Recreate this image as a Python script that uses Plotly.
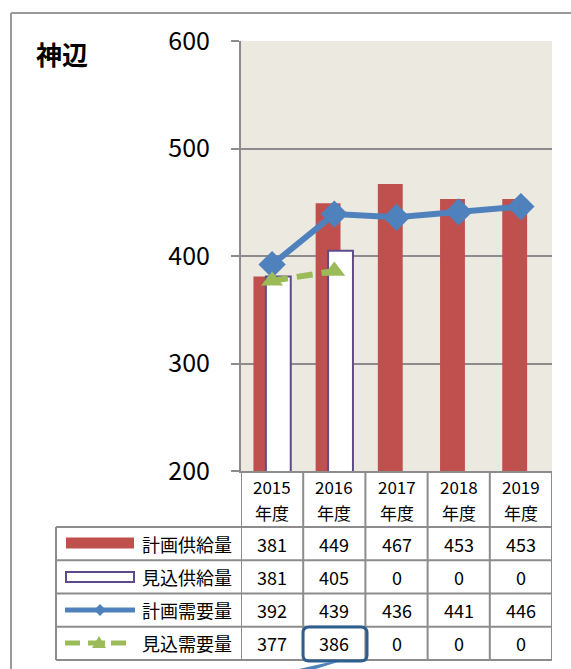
import plotly.graph_objects as go

# データ
years = ["2015", "2016", "2017", "2018", "2019"]
year_unit = "年度"
series_names = ["計画供給量", "見込供給量", "計画需要量", "見込需要量"]
plan_supply = [381, 449, 467, 453, 453]
est_supply = [381, 405, 0, 0, 0]
plan_demand = [392, 439, 436, 441, 446]
est_demand = [377, 386, 0, 0, 0]

RED = "#C0504D"
PURPLE = "#5F4B8B"
BLUE = "#4F81BD"
GREEN = "#9BBB59"
GRID = "#8C8C8C"
FONT = "Noto Sans CJK JP"

W, H = 571, 669
L, R, T, B = 241, 19, 41, 198
PW, PH = W - L - R, H - T - B


# ピクセル -> paper 座標
def px(X):
    return (X - L) / PW


def py(Y):
    return (H - B - Y) / PH


fig = go.Figure()

fig.add_trace(go.Bar(
    x=years, y=plan_supply, name=series_names[0],
    marker=dict(color=RED, line=dict(width=0)),
    width=0.4, offset=-0.3
))
fig.add_trace(go.Bar(
    x=years, y=est_supply, name=series_names[1],
    marker=dict(color="white", line=dict(color=PURPLE, width=2)),
    width=0.4, offset=-0.1
))
fig.add_trace(go.Scatter(
    x=years, y=plan_demand, name=series_names[2], mode="lines+markers",
    line=dict(color=BLUE, width=6),
    marker=dict(symbol="diamond", size=21, color=BLUE)
))
fig.add_trace(go.Scatter(
    x=years, y=[v if v else None for v in est_demand], name=series_names[3],
    mode="lines+markers",
    line=dict(color=GREEN, width=6, dash="16px,9px"),
    marker=dict(symbol="triangle-up", size=19, color=GREEN)
))

shapes = []
annotations = []


def label(x, y, text, xref="paper", xanchor="center", size=18):
    annotations.append(dict(x=x, xref=xref, y=y, yref="paper", text=text,
                            showarrow=False, xanchor=xanchor, yanchor="middle",
                            font=dict(size=size, color="black")))


# 外枠
shapes.append(dict(type="line", xref="paper", yref="paper",
                   x0=px(11), x1=px(575), y0=py(13), y1=py(13),
                   line=dict(color="#9A9A9A", width=2)))
shapes.append(dict(type="line", xref="paper", yref="paper",
                   x0=px(11), x1=px(11), y0=py(13), y1=py(675),
                   line=dict(color="#9A9A9A", width=2)))

# データテーブル
row_lines = [527, 560.25, 593.5, 626.75, 660]
for i in range(len(years) + 1):
    shapes.append(dict(type="line", xref="x", yref="paper",
                       x0=i - 0.5, x1=i - 0.5, y0=py(471), y1=py(660),
                       line=dict(color=GRID, width=2)))
shapes.append(dict(type="line", xref="paper", yref="paper",
                   x0=px(56), x1=px(56), y0=py(527), y1=py(660),
                   line=dict(color=GRID, width=2)))
for Y in row_lines:
    shapes.append(dict(type="line", xref="paper", yref="paper",
                       x0=px(56), x1=1, y0=py(Y), y1=py(Y),
                       line=dict(color=GRID, width=2)))

for i, yr in enumerate(years):
    label(i, py(486), yr, xref="x", size=17)
    label(i, py(512), year_unit, xref="x", size=17)

rows = [plan_supply, est_supply, plan_demand, est_demand]
for r, vals in enumerate(rows):
    yc = (row_lines[r] + row_lines[r + 1]) / 2
    label(px(234), py(yc), series_names[r], xanchor="right")
    for i, v in enumerate(vals):
        label(i, py(yc), str(v), xref="x")

# 凡例記号
shapes.append(dict(type="rect", xref="paper", yref="paper",
                   x0=px(66), x1=px(134), y0=py(537.5), y1=py(548.5),
                   fillcolor=RED, line=dict(width=0)))
shapes.append(dict(type="rect", xref="paper", yref="paper",
                   x0=px(66), x1=px(134), y0=py(572), y1=py(582),
                   fillcolor="white", line=dict(color=PURPLE, width=2)))
shapes.append(dict(type="line", xref="paper", yref="paper",
                   x0=px(65), x1=px(135), y0=py(610), y1=py(610),
                   line=dict(color=BLUE, width=5)))
shapes.append(dict(type="path", xref="paper", yref="paper",
                   path=f"M {px(100)},{py(604)} L {px(106)},{py(610)} L {px(100)},{py(616)} L {px(94)},{py(610)} Z",
                   fillcolor=BLUE, line=dict(width=0)))
for x0, x1 in [(65, 80), (88, 105), (111, 126)]:
    shapes.append(dict(type="line", xref="paper", yref="paper",
                       x0=px(x0), x1=px(x1), y0=py(643), y1=py(643),
                       line=dict(color=GREEN, width=5)))
shapes.append(dict(type="path", xref="paper", yref="paper",
                   path=f"M {px(99)},{py(636)} L {px(106)},{py(648)} L {px(92)},{py(648)} Z",
                   fillcolor=GREEN, line=dict(width=0)))

# 吹き出し
shapes.append(dict(type="path", xref="paper", yref="paper",
                   path=(f"M {px(309)},{py(627)} L {px(361)},{py(627)} "
                         f"Q {px(367)},{py(627)} {px(367)},{py(633)} "
                         f"L {px(367)},{py(655)} Q {px(367)},{py(661)} {px(361)},{py(661)} "
                         f"L {px(309)},{py(661)} Q {px(303)},{py(661)} {px(303)},{py(655)} "
                         f"L {px(303)},{py(633)} Q {px(303)},{py(627)} {px(309)},{py(627)} Z"),
                   line=dict(color="#2E5E8E", width=3)))
shapes.append(dict(type="path", xref="paper", yref="paper",
                   path=f"M {px(330)},{py(662)} L {px(290)},{py(671)} L {px(296)},{py(675)} L {px(338)},{py(662)} Z",
                   fillcolor=BLUE, line=dict(width=0)))

# タイトル
label(px(34), py(54), "<b>神辺</b>", xanchor="left", size=26)

fig.update_layout(
    width=W, height=H,
    margin=dict(l=L, r=R, t=T, b=B),
    barmode="overlay",
    showlegend=False,
    paper_bgcolor="white",
    plot_bgcolor="#ECEAE0",
    font=dict(family=FONT, color="black"),
    xaxis=dict(
        type="category", range=[-0.5, 4.5],
        showticklabels=False, showgrid=False,
        showline=True, linecolor=GRID, linewidth=2, ticks=""
    ),
    yaxis=dict(
        range=[200, 600], tickvals=[200, 300, 400, 500, 600],
        showgrid=True, gridcolor=GRID, gridwidth=2,
        showline=True, linecolor=GRID, linewidth=2,
        ticks="outside", ticklen=8, tickcolor=GRID, tickwidth=2,
        ticklabelstandoff=16, zeroline=False,
        tickfont=dict(size=25, color="black")
    ),
    shapes=shapes,
    annotations=annotations
)

fig.write_html("out.html", config={"displayModeBar": False},
               post_script="document.body.style.margin='0';")
